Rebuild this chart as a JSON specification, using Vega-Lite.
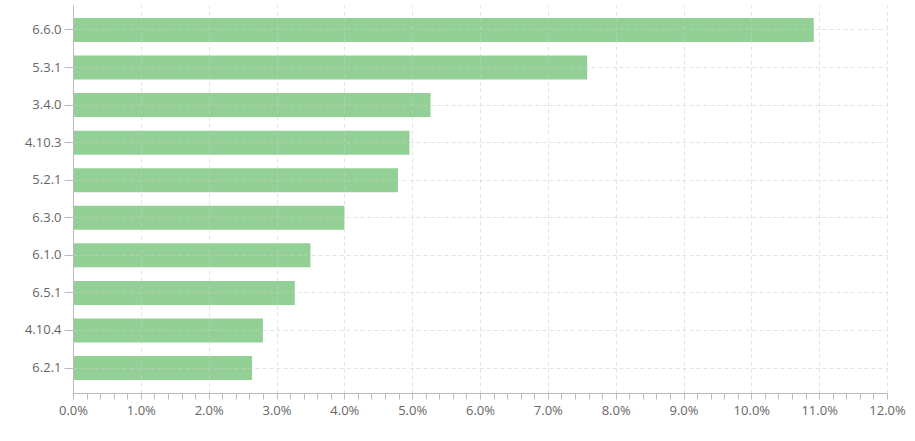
{
  "$schema": "https://vega.github.io/schema/vega-lite/v6.json",
  "autosize": {"type": "none"},
  "width": 814,
  "height": 388,
  "padding": {"left": 73, "top": 5, "right": 28, "bottom": 48},
  "background": "white",
  "data": {"values": [
    {"version": "6.6.0", "share": 0.1092},
    {"version": "5.3.1", "share": 0.0758},
    {"version": "3.4.0", "share": 0.0527},
    {"version": "4.10.3", "share": 0.0496},
    {"version": "5.2.1", "share": 0.0479},
    {"version": "6.3.0", "share": 0.0400},
    {"version": "6.1.0", "share": 0.0350},
    {"version": "6.5.1", "share": 0.0327},
    {"version": "4.10.4", "share": 0.0280},
    {"version": "6.2.1", "share": 0.0264}
  ]},
  "config": {
    "view": {"stroke": null},
    "font": "Open Sans",
    "axis": {
      "labelFont": "Open Sans",
      "labelFontSize": 13,
      "labelColor": "#666",
      "domainColor": "#bbb",
      "tickColor": "#bbb",
      "gridColor": "#ccc",
      "gridOpacity": 0.55,
      "gridDash": [4, 3],
      "title": null
    }
  },
  "resolve": {"axis": {"x": "independent"}},
  "layer": [
    {
      "mark": {"type": "bar", "color": "#93d095"},
      "encoding": {
        "y": {
          "field": "version", "type": "nominal", "sort": null,
          "scale": {"paddingInner": 0.36, "paddingOuter": 0.345},
          "axis": {"title": null, "grid": true, "tickSize": 9, "labelPadding": 3, "zindex": 1}
        },
        "x": {
          "field": "share", "type": "quantitative",
          "scale": {"domain": [0, 0.12], "nice": false},
          "axis": {"title": null, "orient": "bottom", "format": ".1%", "values": [0,0.01,0.02,0.03,0.04,0.05,0.06,0.07,0.08,0.09,0.1,0.11,0.12], "grid": true, "tickSize": 6, "labelPadding": 5, "zindex": 1, "labelFlush": false}
        }
      }
    },
    {
      "mark": {"type": "bar", "opacity": 0},
      "encoding": {
        "y": {"field": "version", "type": "nominal", "sort": null},
        "x": {
          "field": "share", "type": "quantitative",
          "axis": {"title": null, "orient": "bottom", "labels": false, "domain": false, "grid": false, "tickSize": 6,
            "values": [0.002,0.004,0.006,0.008,0.012,0.014,0.016,0.018,0.022,0.024,0.026,0.028,0.032,0.034,0.036,0.038,0.042,0.044,0.046,0.048,0.052,0.054,0.056,0.058,0.062,0.064,0.066,0.068,0.072,0.074,0.076,0.078,0.082,0.084,0.086,0.088,0.092,0.094,0.096,0.098,0.102,0.104,0.106,0.108,0.112,0.114,0.116,0.118]}
        }
      }
    }
  ]
}
